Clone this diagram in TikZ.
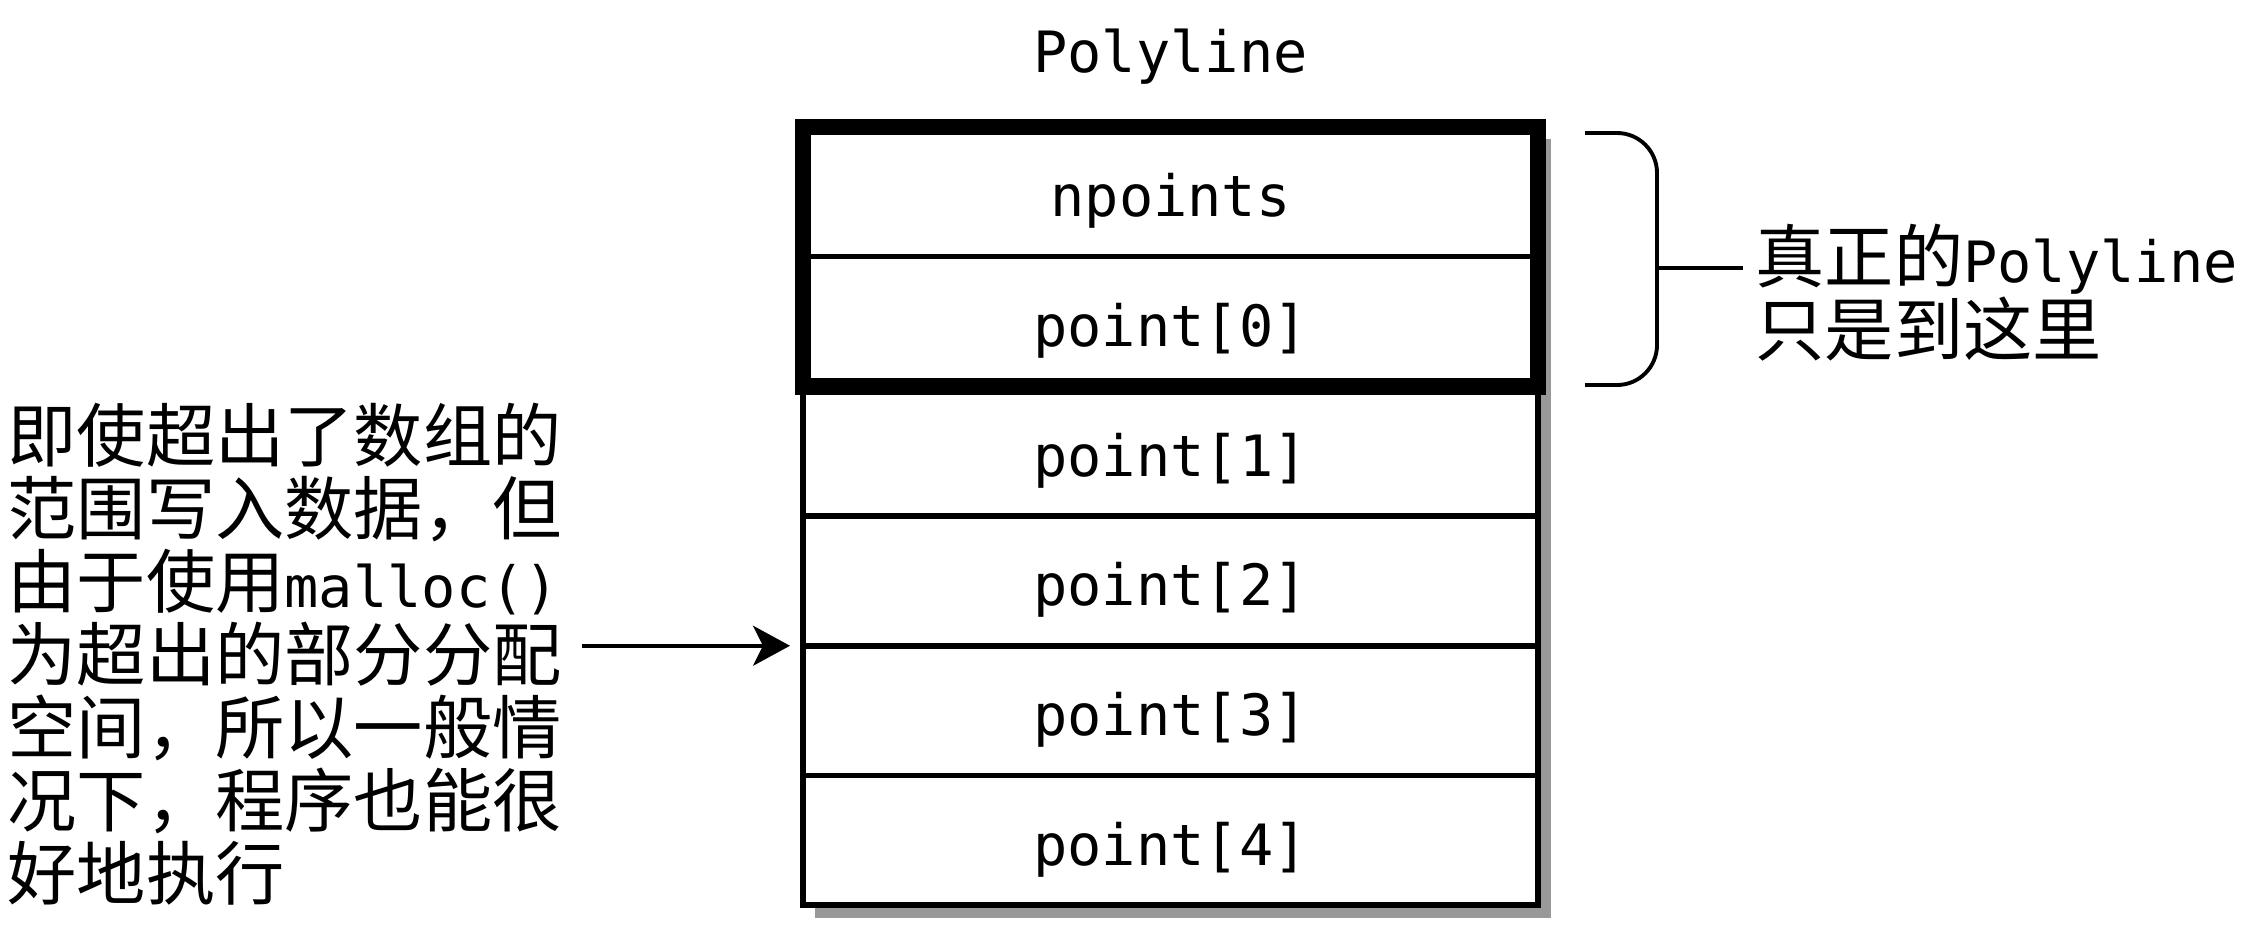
\documentclass[tikz,border=0pt]{standalone}
\usepackage{fontspec}
\setmonofont{DejaVu Sans Mono}
\newfontfamily\cjk{Noto Sans CJK SC}
\usepackage{tikz}
\usetikzlibrary{positioning, arrows.meta, calc}

\newcommand{\code}[1]{{\ttfamily\fontsize{16.2}{20.8}\selectfont #1}}

\begin{document}
\begin{tikzpicture}[
  cell/.style={draw, fill=white, line width=1.6pt, minimum width=7.35cm,
    minimum height=1.297cm, inner sep=0pt, outer sep=0pt,
    text height=0.55cm, text depth=0.05cm,
    font=\ttfamily\fontsize{16.2}{20}\selectfont},
  outline/.style={draw, line width=4.8pt},
  shade/.style={fill=black!40},
  note/.style={align=left, inner sep=0pt, font=\cjk\fontsize{19.7}{20.8}\selectfont},
  pointer/.style={draw, line width=1.1pt, -{Stealth[length=0.37cm, width=0.4cm, inset=0.1cm]}},
  bracket/.style={draw, line width=1.1pt, rounded corners=0.4cm}
]
\useasboundingbox (0,0) rectangle (22.54,9.31);

% shadow
\fill[shade] (8.15,7.92) rectangle (15.51,0.13);

% cells
\node[cell] (np) at (11.705,7.392) {npoints};
\foreach \i in {0,...,4}
  \node[cell] (p\i) at (11.705,{6.095-1.297*\i}) {point[\i]};
\node[font=\ttfamily\fontsize{16.2}{20}\selectfont, inner sep=0pt, above=0.42cm of np] (title) {Polyline};

% the part that really belongs to Polyline
\draw[outline] (np.north west) rectangle (p0.south east);

% note on the left
\node[note, anchor=west] (note) at (0.07,2.77) {即使超出了数组的\\范围写入数据，但\\由于使用\code{malloc()}\\为超出的部分分配\\空间，所以一般情\\况下，程序也能很\\好地执行};
\draw[pointer, shorten <=0.2cm, shorten >=0.13cm] (note.east |- p2.south west) -- (p2.south west);

% brace and its label
\draw[bracket] (15.85,7.98) -| (16.57,5.46) -- (15.85,5.46);
\coordinate (tick) at (17.43,6.63);
\draw[bracket] (16.57,6.63) -- (tick);
\node[note, right=0.12cm of tick, yshift=-0.25cm] (real) {真正的\code{Polyline}\\只是到这里};

\end{tikzpicture}
\end{document}
